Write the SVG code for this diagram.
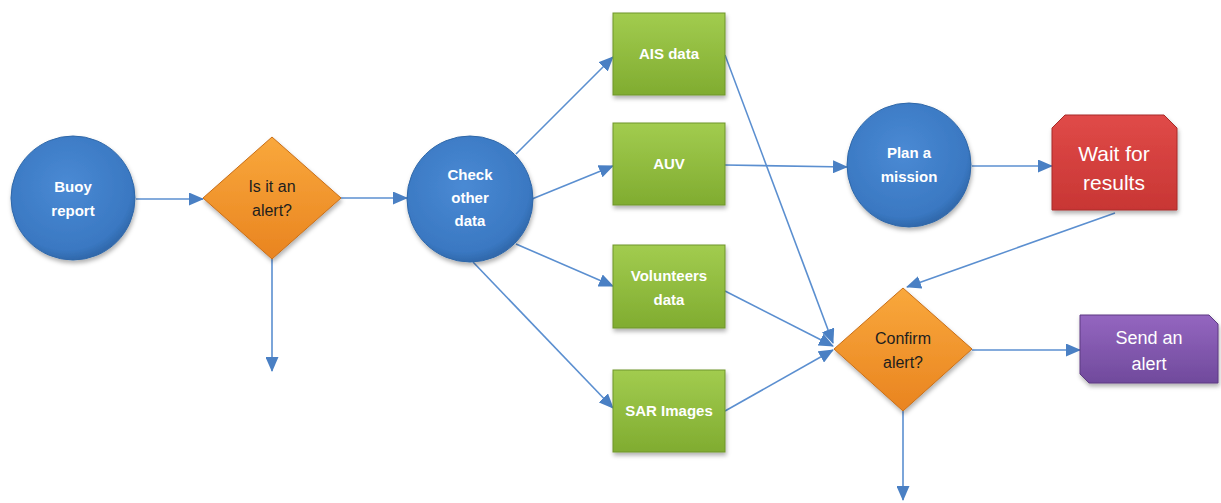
<svg xmlns="http://www.w3.org/2000/svg" width="1221" height="503" viewBox="0 0 1221 503">
<defs>
  <radialGradient id="gBlue" cx="0.45" cy="0.4" r="0.65">
    <stop offset="0" stop-color="#4a8ad4"/>
    <stop offset="0.8" stop-color="#3a78c2"/>
    <stop offset="1" stop-color="#2a5f9e"/>
  </radialGradient>
  <linearGradient id="gGreen" x1="0" y1="0" x2="0" y2="1">
    <stop offset="0" stop-color="#a2cc4f"/>
    <stop offset="1" stop-color="#80ac30"/>
  </linearGradient>
  <linearGradient id="gOrange" x1="0" y1="0" x2="0" y2="1">
    <stop offset="0" stop-color="#f9a83c"/>
    <stop offset="1" stop-color="#e98420"/>
  </linearGradient>
  <linearGradient id="gRed" x1="0" y1="0" x2="0" y2="1">
    <stop offset="0" stop-color="#e04a48"/>
    <stop offset="1" stop-color="#c83634"/>
  </linearGradient>
  <linearGradient id="gPurple" x1="0" y1="0" x2="0" y2="1">
    <stop offset="0" stop-color="#9466c0"/>
    <stop offset="1" stop-color="#704a9c"/>
  </linearGradient>
  <filter id="sh" x="-20%" y="-20%" width="140%" height="150%">
    <feDropShadow dx="1" dy="3" stdDeviation="2" flood-color="#000" flood-opacity="0.3"/>
  </filter>
  <marker id="arr" viewBox="0 0 15 13" refX="14" refY="6.5" markerWidth="15" markerHeight="13" markerUnits="userSpaceOnUse" orient="auto">
    <path d="M0,0 L15,6.5 L0,13 Z" fill="#4a80c4"/>
  </marker>
  <style>
    .c { stroke: #5b8fd0; stroke-width: 1.6; fill: none; marker-end: url(#arr); }
    .t { font-family: "Liberation Sans", "Open Sans", Arial, sans-serif; font-size: 15px; font-weight: bold; fill: #ffffff; text-anchor: middle; }
    .d { font-family: "Liberation Sans", "Open Sans", Arial, sans-serif; font-size: 16px; fill: #1e1e1e; text-anchor: middle; }
    .big { font-family: "Liberation Sans", "Open Sans", Arial, sans-serif; font-size: 21px; fill: #ffffff; text-anchor: middle; }
    .mid { font-family: "Liberation Sans", "Open Sans", Arial, sans-serif; font-size: 18px; fill: #ffffff; text-anchor: middle; }
    .circle { fill: url(#gBlue); stroke: #2f67a8; stroke-width: 1; filter: url(#sh); }
    .box { fill: url(#gGreen); stroke: #6f952a; stroke-width: 1; filter: url(#sh); }
    .dia { fill: url(#gOrange); stroke: #c86e18; stroke-width: 1; filter: url(#sh); }
  </style>
</defs>

<g id="connectors">
  <line class="c" x1="136" y1="199" x2="203" y2="199"/>
  <line class="c" x1="272" y1="258" x2="272" y2="371"/>
  <line class="c" x1="340" y1="198" x2="407" y2="198"/>
  <line class="c" x1="516" y1="154" x2="613" y2="57"/>
  <line class="c" x1="532" y1="199" x2="613" y2="166"/>
  <line class="c" x1="516" y1="244" x2="613" y2="286"/>
  <line class="c" x1="473" y1="262" x2="613" y2="408"/>
  <line class="c" x1="725" y1="165" x2="847" y2="167"/>
  <line class="c" x1="972" y1="166" x2="1052" y2="166"/>
  <line class="c" x1="725" y1="55" x2="833" y2="343"/>
  <line class="c" x1="725" y1="291" x2="833" y2="346"/>
  <line class="c" x1="725" y1="411" x2="833" y2="350"/>
  <line class="c" x1="1115" y1="213" x2="907" y2="287"/>
  <line class="c" x1="972" y1="350" x2="1080" y2="350"/>
  <line class="c" x1="903" y1="410" x2="903" y2="500"/>
</g>

<g id="buoy">
  <circle class="circle" cx="73" cy="198" r="62"/>
  <text class="t" x="73" y="192">Buoy</text>
  <text class="t" x="73" y="216">report</text>
</g>

<g id="isalert">
  <polygon class="dia" points="272,137 341,198 272,259 203,198"/>
  <text class="d" x="272" y="192">Is it an</text>
  <text class="d" x="272" y="216">alert?</text>
</g>

<g id="check">
  <circle class="circle" cx="470" cy="199" r="63"/>
  <text class="t" x="470" y="180">Check</text>
  <text class="t" x="470" y="203">other</text>
  <text class="t" x="470" y="226">data</text>
</g>

<g id="ais">
  <rect class="box" x="613" y="13" width="112" height="82"/>
  <text class="t" x="669" y="59">AIS data</text>
</g>

<g id="auv">
  <rect class="box" x="613" y="123" width="112" height="82"/>
  <text class="t" x="669" y="169">AUV</text>
</g>

<g id="volunteers">
  <rect class="box" x="613" y="245" width="112" height="83"/>
  <text class="t" x="669" y="281">Volunteers</text>
  <text class="t" x="669" y="305">data</text>
</g>

<g id="sar">
  <rect class="box" x="613" y="370" width="112" height="82"/>
  <text class="t" x="669" y="416">SAR Images</text>
</g>

<g id="plan">
  <circle class="circle" cx="909" cy="165" r="62"/>
  <text class="t" x="909" y="158">Plan a</text>
  <text class="t" x="909" y="182">mission</text>
</g>

<g id="wait">
  <path d="M1052,128 L1065,115 L1164,115 L1177,128 L1177,210 L1052,210 Z" fill="url(#gRed)" stroke="#a82a28" stroke-width="1" filter="url(#sh)"/>
  <text class="big" x="1114" y="161">Wait for</text>
  <text class="big" x="1114" y="190">results</text>
</g>

<g id="confirm">
  <polygon class="dia" points="903,288 972,349 903,411 834,349" />
  <text class="d" x="903" y="344">Confirm</text>
  <text class="d" x="903" y="368">alert?</text>
</g>

<g id="send">
  <path d="M1080,315 L1209,315 L1218,324 L1218,383 L1089,383 L1080,374 Z" fill="url(#gPurple)" stroke="#5c3a82" stroke-width="1" filter="url(#sh)"/>
  <text class="mid" x="1149" y="344">Send an</text>
  <text class="mid" x="1149" y="370">alert</text>
</g>
</svg>
